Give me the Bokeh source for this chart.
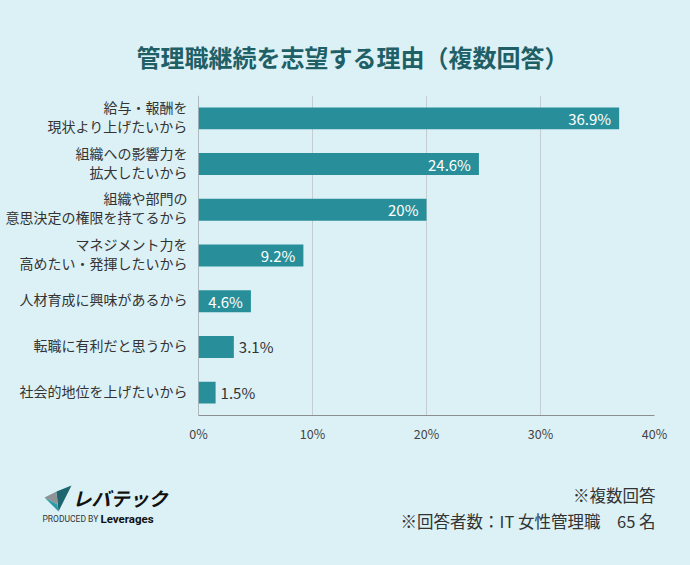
from bokeh.plotting import figure
from bokeh.layouts import column, row
from bokeh.models import FactorRange, Range1d, ColumnDataSource, FixedTicker, PrintfTickFormatter, Span
from bokeh.core.properties import value
from bokeh.embed import file_html
from bokeh.resources import INLINE

# --- data -------------------------------------------------------------
reasons = [
    "給与・報酬を\n現状より上げたいから",
    "組織への影響力を\n拡大したいから",
    "組織や部門の\n意思決定の権限を持てるから",
    "マネジメント力を\n高めたい・発揮したいから",
    "人材育成に興味があるから",
    "転職に有利だと思うから",
    "社会的地位を上げたいから",
]
shares = [36.9, 24.6, 20.0, 9.2, 4.6, 3.1, 1.5]
share_labels = ["36.9%", "24.6%", "20%", "9.2%", "4.6%", "3.1%", "1.5%"]
x_ticks = [0, 10, 20, 30, 40]

title_text = "管理職継続を志望する理由（複数回答）"
note_1 = "※複数回答"
note_2 = "※回答者数：IT 女性管理職　65 名"

# --- style ------------------------------------------------------------
BG = "#dcf1f6"
BAR = "#288f9a"
TITLE = "#1f5f66"
INK = "#333333"
JP = value("Noto Sans CJK JP")

W = 690
HEAD_H = 95
FRAME_H = 320
BOTTOM_B = 45
MAIN_H = FRAME_H + BOTTOM_B
FOOT_H = 565 - HEAD_H - MAIN_H
LEFT_W = 188          # label column
MAIN_PAD_L = 10       # room for the "0%" tick label
RIGHT_B = 36
LINE_GAP = 19


def blank(width, height, x_range, y_range):
    f = figure(width=width, height=height, x_range=x_range, y_range=y_range,
               output_backend="svg", toolbar_location=None,
               min_border=0, background_fill_color=BG, border_fill_color=BG)
    f.axis.visible = False
    f.grid.visible = False
    f.outline_line_color = None
    return f


# --- header -----------------------------------------------------------
head = blank(W, HEAD_H, Range1d(0, W), Range1d(HEAD_H, 0))
head.text(x=[352], y=[56], text=[title_text], text_font=JP, text_font_size="24px",
          text_font_style="bold", text_color=TITLE, text_align="center",
          text_baseline="middle")

# --- shared category scale -------------------------------------------
y_range = FactorRange(factors=list(reversed(reasons)), range_padding=0)

# --- category labels, one glyph row per text line --------------------
line_y, line_txt, line_off = [], [], []
for r in reasons:
    parts = r.split("\n")
    n = len(parts)
    for k, t in enumerate(parts):
        line_y.append(r)
        line_txt.append(t)
        line_off.append((k - (n - 1) / 2) * LINE_GAP - 2)

left = blank(LEFT_W, MAIN_H, Range1d(0, LEFT_W), y_range)
left.min_border_bottom = BOTTOM_B
left.text(x=[187] * len(line_y), y=line_y, text=line_txt, y_offset=line_off,
          text_font=JP, text_font_size="14px", text_color=INK,
          text_align="right", text_baseline="middle")

# --- bar chart --------------------------------------------------------
inside = [v >= 4 for v in shares]
src = ColumnDataSource(dict(
    reason=reasons,
    share=shares,
    label=share_labels,
    color=["#ffffff" if i else INK for i in inside],
    align=["right" if i else "left" for i in inside],
    off=[-8 if i else 5 for i in inside],
))

p = figure(width=W - LEFT_W, height=MAIN_H, x_range=Range1d(0, 40), y_range=y_range,
           output_backend="svg", toolbar_location=None,
           min_border_left=MAIN_PAD_L, min_border_right=RIGHT_B, min_border_top=0,
           min_border_bottom=BOTTOM_B,
           background_fill_color=BG, border_fill_color=BG)
p.outline_line_color = None

p.hbar(y="reason", right="share", left=0, height=0.48, source=src,
       fill_color=BAR, line_color=None)
p.text(x="share", y="reason", text="label", source=src, text_font=JP,
       text_font_size="15px", text_color="color", text_align="align",
       x_offset="off", text_baseline="middle")

p.yaxis.visible = False
p.ygrid.visible = False
p.xgrid.ticker = FixedTicker(ticks=x_ticks[1:])
p.xgrid.grid_line_color = "#c4cdd1"
p.xgrid.grid_line_width = 1

p.xaxis.ticker = FixedTicker(ticks=x_ticks)
p.xaxis.formatter = PrintfTickFormatter(format="%d%%")
p.xaxis.axis_line_color = "#8a8f92"
p.xaxis.major_tick_line_color = None
p.xaxis.minor_tick_line_color = None
p.xaxis.major_tick_out = 0
p.xaxis.major_tick_in = 0
p.xaxis.minor_tick_out = 0
p.xaxis.major_label_standoff = 8
p.xaxis.major_label_text_font = "Noto Sans CJK JP"
p.xaxis.major_label_text_font_size = "12.5px"
p.xaxis.major_label_text_color = "#444444"

p.add_layout(Span(location=0, dimension="height", line_color="#7f8588", line_width=1))

# --- footer -----------------------------------------------------------
top = HEAD_H + MAIN_H
foot = blank(W, FOOT_H, Range1d(0, W), Range1d(565, top))
foot.text(x=[655, 655], y=[494, 520], text=[note_1, note_2], text_font=JP,
          text_font_size="16.5px", text_color=INK, text_align="right",
          text_baseline="middle")

# brand mark
foot.patch(x=[44, 56, 57], y=[497, 491, 504], fill_color="#8e9396", line_color=None)
foot.patch(x=[44, 57, 58], y=[497, 504, 511], fill_color="#2b9ca8", line_color=None)
foot.patch(x=[56, 71, 58], y=[491, 485, 511], fill_color="#1d6670", line_color=None)
foot.text(x=[72], y=[497], text=["レバテック"], text_font=JP, text_font_size="19px",
          text_font_style="bold italic", text_color="#111111", text_baseline="middle")
foot.text(x=[42], y=[518], text=["PRODUCED BY"], text_font=value("Roboto"),
          text_font_size="8.5px", text_color="#333333", text_baseline="middle")
foot.text(x=[100], y=[518], text=["Leverages"], text_font=value("Roboto"),
          text_font_size="11.5px", text_font_style="bold", text_color="#111111",
          text_baseline="middle")

layout = column(head, row(left, p, spacing=0), foot, spacing=0,
                styles={"background-color": BG})

with open("out.html", "w") as fh:
    fh.write(file_html(layout, INLINE, title="管理職継続を志望する理由"))
